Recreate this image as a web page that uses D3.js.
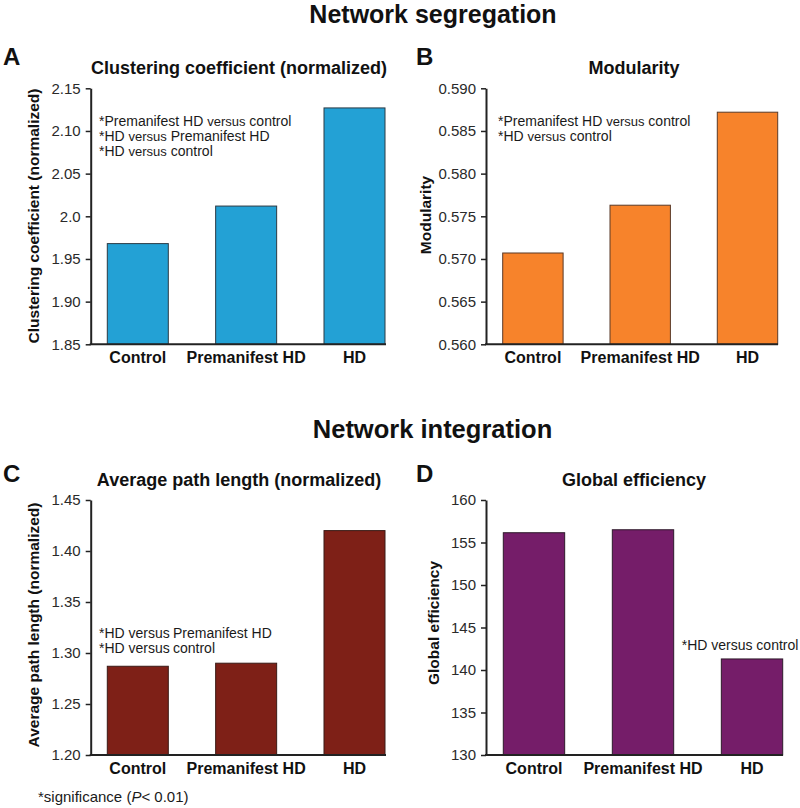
<!DOCTYPE html>
<html>
<head>
<meta charset="utf-8">
<script src="https://cdn.jsdelivr.net/npm/d3@7"></script>
<style>
  html, body { margin: 0; padding: 0; background: #fff; }
  svg { display: block; font-family: "Liberation Sans", Arial, Helvetica, sans-serif; }
</style>
</head>
<body>
<svg id="chart" width="800" height="808"></svg>
<script>
// ---------- data ----------
const categories = ["Control", "Premanifest HD", "HD"];

const clusteringValues = [1.968, 2.012, 2.127];
const clusteringTicks = [1.85, 1.90, 1.95, 2.0, 2.05, 2.10, 2.15];
const clusteringTickLabels = ["1.85", "1.90", "1.95", "2.0", "2.05", "2.10", "2.15"];

const modularityValues = [0.5707, 0.5763, 0.5872];
const modularityTicks = [0.560, 0.565, 0.570, 0.575, 0.580, 0.585, 0.590];
const modularityTickLabels = ["0.560", "0.565", "0.570", "0.575", "0.580", "0.585", "0.590"];

const pathLengthValues = [1.287, 1.290, 1.420];
const pathLengthTicks = [1.20, 1.25, 1.30, 1.35, 1.40, 1.45];
const pathLengthTickLabels = ["1.20", "1.25", "1.30", "1.35", "1.40", "1.45"];

const efficiencyValues = [156.15, 156.5, 141.3];
const efficiencyTicks = [130, 135, 140, 145, 150, 155, 160];
const efficiencyTickLabels = ["130", "135", "140", "145", "150", "155", "160"];

const sectionTitles = ["Network segregation", "Network integration"];
const footnote = ["*significance (", "P", "< 0.01)"];

// ---------- panel layout ----------
const panels = [
  { letter: "A", title: "Clustering coefficient (normalized)", ylabel: "Clustering coefficient (normalized)",
    values: clusteringValues, ticks: clusteringTicks, tickLabels: clusteringTickLabels,
    color: "#23a1d5", stroke: "#2b3a44",
    axisX: 90.7, axisEnd: 386, barStart: 107.3, barEnd: 385, top: 88.3, bottom: 344.3,
    letterX: 3, letterY: 65, titleX: 239, titleY: 74, ylabelX: 39, ylabelY: 216,
    notes: [
      { x: 99, y: 126, parts: [["*Premanifest HD ", 14], ["versus", 13], [" control", 14]] },
      { x: 99, y: 141, parts: [["*HD ", 14], ["versus", 13], [" Premanifest HD", 14]] },
      { x: 99, y: 156, parts: [["*HD ", 14], ["versus", 13], [" control", 14]] }
    ] },
  { letter: "B", title: "Modularity", ylabel: "Modularity",
    values: modularityValues, ticks: modularityTicks, tickLabels: modularityTickLabels,
    color: "#f7832b", stroke: "#5a3a28",
    axisX: 486, axisEnd: 778, barStart: 502.7, barEnd: 777.7, top: 88.3, bottom: 344.3,
    letterX: 416, letterY: 65, titleX: 634, titleY: 74, ylabelX: 431, ylabelY: 215,
    notes: [
      { x: 498, y: 126, parts: [["*Premanifest HD ", 14], ["versus", 13], [" control", 14]] },
      { x: 498, y: 141, parts: [["*HD ", 14], ["versus", 13], [" control", 14]] }
    ] },
  { letter: "C", title: "Average path length (normalized)", ylabel: "Average path length (normalized)",
    values: pathLengthValues, ticks: pathLengthTicks, tickLabels: pathLengthTickLabels,
    color: "#7e2017", stroke: "#3a1a16",
    axisX: 90.7, axisEnd: 386, barStart: 107.3, barEnd: 385, top: 500, bottom: 755,
    letterX: 3, letterY: 482, titleX: 239, titleY: 486, ylabelX: 39, ylabelY: 625,
    notes: [
      { x: 99, y: 638, parts: [["*HD versus", 14]] },
      { x: 173, y: 638, parts: [["Premanifest HD", 14]] },
      { x: 99, y: 653, parts: [["*HD versus", 14]] },
      { x: 173, y: 653, parts: [["control", 14]] }
    ] },
  { letter: "D", title: "Global efficiency", ylabel: "Global efficiency",
    values: efficiencyValues, ticks: efficiencyTicks, tickLabels: efficiencyTickLabels,
    color: "#751d69", stroke: "#2e1a2b",
    axisX: 486, axisEnd: 783, barStart: 503.3, barEnd: 782.7, top: 500, bottom: 755,
    letterX: 416, letterY: 482, titleX: 634, titleY: 486, ylabelX: 439, ylabelY: 623,
    notes: [
      { x: 681.7, y: 650, parts: [["*HD versus control", 14]] }
    ] }
];

const svg = d3.select("#chart");

// Section titles
svg.append("text").attr("x", 433).attr("y", 23).attr("text-anchor", "middle")
  .attr("font-size", 25).attr("font-weight", "bold").attr("fill", "#111").text(sectionTitles[0]);
svg.append("text").attr("x", 432.5).attr("y", 438).attr("text-anchor", "middle")
  .attr("font-size", 25.5).attr("font-weight", "bold").attr("fill", "#111").text(sectionTitles[1]);

panels.forEach(p => {
  const g = svg.append("g");
  const y = d3.scaleLinear()
    .domain([p.ticks[0], p.ticks[p.ticks.length - 1]])
    .range([p.bottom, p.top]);
  const x = d3.scaleBand()
    .domain(categories)
    .range([p.barStart, p.barEnd])
    .paddingInner(0.437)
    .paddingOuter(0);

  // bars
  g.selectAll("rect.bar")
    .data(p.values)
    .join("rect")
    .attr("class", "bar")
    .attr("x", (d, i) => x(categories[i]))
    .attr("width", x.bandwidth())
    .attr("y", d => y(d))
    .attr("height", d => p.bottom - y(d))
    .attr("fill", p.color)
    .attr("stroke", p.stroke)
    .attr("stroke-width", 1);

  // y axis
  const yAxis = d3.axisLeft(y)
    .tickValues(p.ticks)
    .tickFormat((d, i) => p.tickLabels[i])
    .tickSize(5)
    .tickPadding(5)
    .tickSizeOuter(0);
  const ya = g.append("g").attr("transform", `translate(${p.axisX},0)`).call(yAxis);
  ya.select(".domain").attr("stroke", "#222").attr("stroke-width", 2);
  ya.selectAll(".tick line").attr("stroke", "#222").attr("stroke-width", 1.5);
  ya.selectAll(".tick text").attr("font-size", 15).attr("fill", "#2a2a2a")
    .attr("font-family", "'Liberation Sans', Arial, sans-serif");

  // x axis
  const xa = g.append("g").attr("transform", `translate(0,${p.bottom})`)
    .call(d3.axisBottom(x).tickSize(0).tickPadding(8).tickSizeOuter(0));
  xa.select(".domain").remove();
  g.append("line")
    .attr("x1", p.axisX - 1).attr("x2", p.axisEnd)
    .attr("y1", p.bottom).attr("y2", p.bottom)
    .attr("stroke", "#222").attr("stroke-width", 2);
  xa.selectAll(".tick text")
    .attr("font-size", 16).attr("font-weight", "bold").attr("fill", "#111")
    .attr("font-family", "'Liberation Sans', Arial, sans-serif")
    .attr("dy", null).attr("y", 19);

  // panel letter
  g.append("text").attr("x", p.letterX).attr("y", p.letterY)
    .attr("font-size", 24).attr("font-weight", "bold").attr("fill", "#111").text(p.letter);

  // panel title
  g.append("text").attr("x", p.titleX).attr("y", p.titleY).attr("text-anchor", "middle")
    .attr("font-size", 18).attr("font-weight", "bold").attr("fill", "#111").text(p.title);

  // y label
  g.append("text")
    .attr("transform", `translate(${p.ylabelX},${p.ylabelY}) rotate(-90)`)
    .attr("text-anchor", "middle")
    .attr("font-size", 15.5).attr("font-weight", "bold").attr("fill", "#111")
    .text(p.ylabel);

  // significance notes
  p.notes.forEach(n => {
    const t = g.append("text").attr("x", n.x).attr("y", n.y).attr("fill", "#1a1a1a");
    n.parts.forEach(part => {
      t.append("tspan").attr("font-size", part[1]).text(part[0]);
    });
  });
});

// footnote
const fn = svg.append("text").attr("x", 38).attr("y", 802).attr("font-size", 15).attr("fill", "#1a1a1a");
fn.append("tspan").text(footnote[0]);
fn.append("tspan").attr("font-style", "italic").text(footnote[1]);
fn.append("tspan").text(footnote[2]);
</script>
</body>
</html>
